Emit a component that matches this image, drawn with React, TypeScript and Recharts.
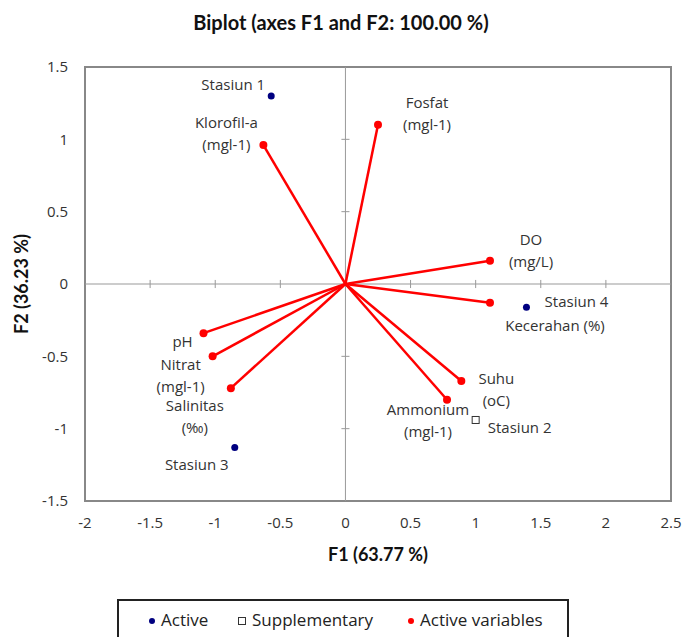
import { ReferenceArea, ReferenceLine, Scatter, ScatterChart, XAxis, YAxis } from "recharts";

const xTicks = [-2, -1.5, -1, -0.5, 0, 0.5, 1, 1.5, 2, 2.5];
const yTicks = [-1.5, -1, -0.5, 0, 0.5, 1, 1.5];

// observations (F1, F2)
const activeObs = [
  { label: ["Stasiun 1"], x: -0.57, y: 1.3 },
  { label: ["Stasiun 3"], x: -0.85, y: -1.13 },
  { label: ["Stasiun 4"], x: 1.39, y: -0.16 },
];
const supplementaryObs = [{ label: ["Stasiun 2"], x: 1.0, y: -0.94 }];

// variable loadings
const activeVariables = [
  { label: ["Klorofil-a", "(mgl-1)"], x: -0.63, y: 0.96 },
  { label: ["Fosfat", "(mgl-1)"], x: 0.25, y: 1.1 },
  { label: ["DO", "(mg/L)"], x: 1.11, y: 0.16 },
  { label: ["Kecerahan (%)"], x: 1.11, y: -0.13 },
  { label: ["Suhu", "(oC)"], x: 0.89, y: -0.67 },
  { label: ["Ammonium", "(mgl-1)"], x: 0.78, y: -0.8 },
  { label: ["pH"], x: -1.09, y: -0.34 },
  { label: ["Nitrat", "(mgl-1)"], x: -1.02, y: -0.5 },
  { label: ["Salinitas", "(‰)"], x: -0.88, y: -0.72 },
];

// label offsets from the marker (px), first line centre
const labelOffset: Record<string, [number, number]> = {
  "Stasiun 1": [-38, -12],
  "Stasiun 3": [-38, 17],
  "Stasiun 4": [50, -6],
  "Stasiun 2": [44, 7],
  "Klorofil-a": [-37, -23],
  Fosfat: [49, -23],
  DO: [41, -22],
  "Kecerahan (%)": [65, 22],
  Suhu: [35, -3],
  Ammonium: [-19, 9],
  pH: [-21, 8],
  Nitrat: [-32, 8],
  Salinitas: [-36, 17],
};

const FONT = "'Open Sans', sans-serif";
const TITLE_FONT = "Lato, sans-serif";
const LINE_H = 22;

function Label({ cx, cy, lines }: { cx: number; cy: number; lines: string[] }) {
  const [dx, dy] = labelOffset[lines[0]] || [0, 0];
  return (
    <text x={cx + dx} y={cy + dy} textAnchor="middle" fontFamily={FONT} fontSize={15} fill="#333">
      {lines.map((l, i) => (
        <tspan key={i} x={cx + dx} y={cy + dy + i * LINE_H} dominantBaseline="central">
          {l}
        </tspan>
      ))}
    </text>
  );
}

const ActiveShape = (p: any) => (
  <g>
    <circle cx={p.cx} cy={p.cy} r={3.5} fill="#000080" />
    <Label cx={p.cx} cy={p.cy} lines={p.payload.label} />
  </g>
);

const SuppShape = (p: any) => (
  <g>
    <rect x={p.cx - 3.5} y={p.cy - 3.5} width={7} height={7} fill="#fff" stroke="#333" strokeWidth={1} />
    <Label cx={p.cx} cy={p.cy} lines={p.payload.label} />
  </g>
);

const VarShape = (p: any) => (
  <g>
    <circle cx={p.cx} cy={p.cy} r={4} fill="#ff0000" />
    <Label cx={p.cx} cy={p.cy} lines={p.payload.label} />
  </g>
);

const tickStyle = { fontSize: 15, fill: "#333", fontFamily: FONT };
const xHalf = 0.031;
const yHalf = 0.028;

export default function App() {
  return (
    <div style={{ position: "absolute", left: 0, top: 0, width: 682, height: 637, background: "#fff", overflow: "hidden" }}>
      <div
        style={{
          position: "absolute",
          top: 10,
          left: 0,
          width: 682,
          textAlign: "center",
          fontFamily: TITLE_FONT,
          fontWeight: 700,
          fontSize: 20,
          color: "#111",
        }}
      >
        Biplot (axes F1 and F2: 100.00 %)
      </div>
      <ScatterChart width={682} height={637} margin={{ top: 67, right: 11, left: 0, bottom: 76 }}>
        <XAxis
          type="number"
          dataKey="x"
          domain={[-2, 2.5]}
          ticks={xTicks}
          axisLine={false}
          tickLine={false}
          tickSize={0}
          tickMargin={16}
          height={60}
          tick={tickStyle}
          label={{
            value: "F1 (63.77 %)",
            position: "insideBottom",
            offset: 0,
            style: { fontFamily: TITLE_FONT, fontWeight: 700, fontSize: 18, fill: "#111" },
          }}
        />
        <YAxis
          type="number"
          dataKey="y"
          domain={[-1.5, 1.5]}
          ticks={yTicks}
          axisLine={false}
          tickLine={false}
          tickSize={0}
          tickMargin={17}
          width={85}
          tick={tickStyle}
          label={{
            value: "F2 (36.23 %)",
            angle: -90,
            position: "insideLeft",
            offset: 22,
            style: { textAnchor: "middle", fontFamily: TITLE_FONT, fontWeight: 700, fontSize: 18, fill: "#111" },
          }}
        />
        <ReferenceArea x1={-2} x2={2.5} y1={-1.5} y2={1.5} fill="none" stroke="#888" strokeWidth={2} />
        <ReferenceLine x={0} stroke="#999" strokeWidth={1} />
        <ReferenceLine y={0} stroke="#999" strokeWidth={1} />
        {xTicks.slice(1, -1).filter((t) => t !== 0).map((t) => (
          <ReferenceLine key={"xt" + t} segment={[{ x: t, y: -yHalf }, { x: t, y: yHalf }]} stroke="#999" />
        ))}
        {yTicks.slice(1, -1).filter((t) => t !== 0).map((t) => (
          <ReferenceLine key={"yt" + t} segment={[{ x: -xHalf, y: t }, { x: xHalf, y: t }]} stroke="#999" />
        ))}
        {activeVariables.map((v) => (
          <ReferenceLine
            key={"v" + v.label[0]}
            segment={[{ x: 0, y: 0 }, { x: v.x, y: v.y }]}
            stroke="#ff0000"
            strokeWidth={2.5}
          />
        ))}
        <Scatter name="Active" data={activeObs} shape={ActiveShape} isAnimationActive={false} />
        <Scatter name="Supplementary" data={supplementaryObs} shape={SuppShape} isAnimationActive={false} />
        <Scatter name="Active variables" data={activeVariables} shape={VarShape} isAnimationActive={false} />
      </ScatterChart>
      <div
        style={{
          position: "absolute",
          left: 117,
          top: 599,
          width: 448,
          height: 60,
          border: "2px solid #222",
          fontFamily: FONT,
          fontSize: 17,
          color: "#222",
        }}
      >
        <span style={{ position: "absolute", left: 30, top: 17, width: 6, height: 6, borderRadius: 3, background: "#000080" }} />
        <span style={{ position: "absolute", left: 42, top: 7, lineHeight: "24px" }}>Active</span>
        <span
          style={{ position: "absolute", left: 119, top: 16, width: 6, height: 6, border: "1px solid #333", background: "#fff" }}
        />
        <span style={{ position: "absolute", left: 133, top: 7, lineHeight: "24px" }}>Supplementary</span>
        <span style={{ position: "absolute", left: 289, top: 17, width: 6, height: 6, borderRadius: 3, background: "#ff0000" }} />
        <span style={{ position: "absolute", left: 301, top: 7, lineHeight: "24px" }}>Active variables</span>
      </div>
    </div>
  );
}
